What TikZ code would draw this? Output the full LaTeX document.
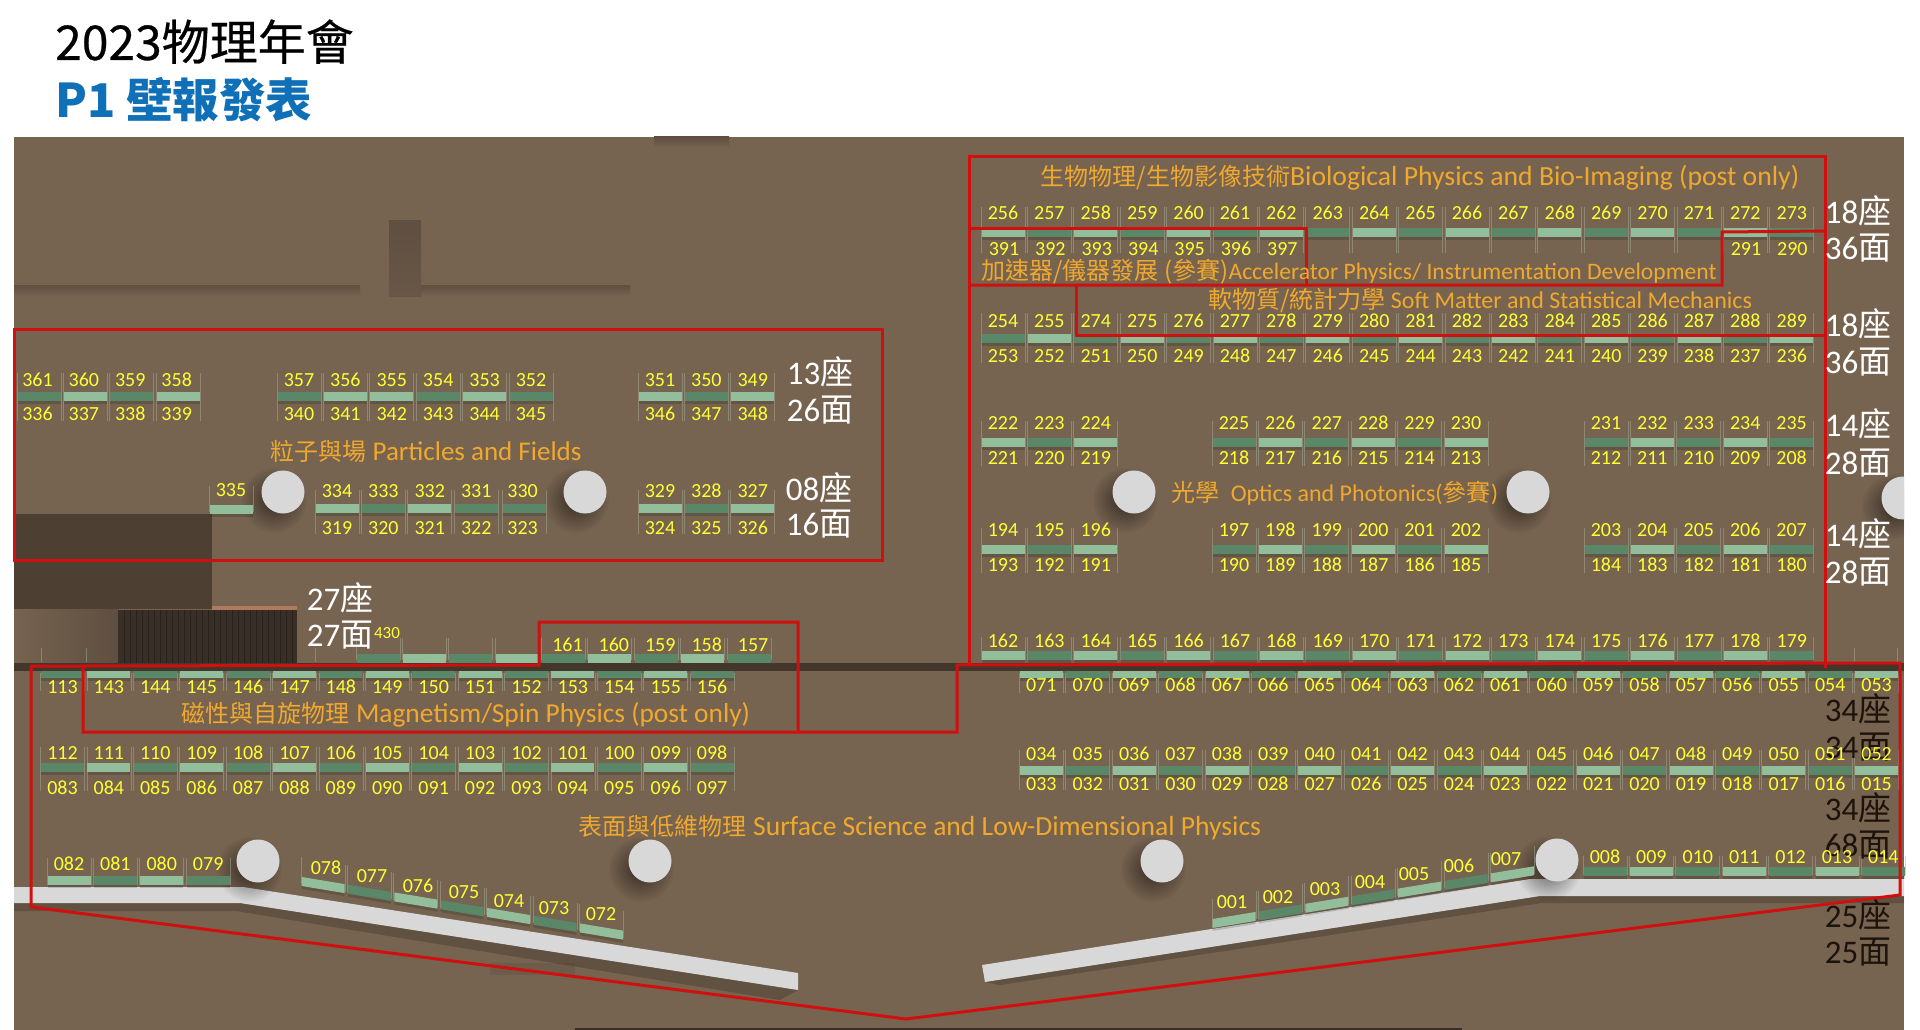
\documentclass[tikz,border=0pt]{standalone}
\usepackage{fontspec}
\setmainfont{Carlito}
\newfontfamily\cjk{Noto Sans CJK TC}
\newfontfamily\cjkmed[FakeBold=0.5]{Noto Sans CJK TC}
\usetikzlibrary{fadings}
\definecolor{floorbrown}{HTML}{766350}
\definecolor{wallshade}{HTML}{5F4F40}
\definecolor{darkblock}{HTML}{4E3F33}
\definecolor{darkstripe}{HTML}{3A2F26}
\definecolor{beam}{HTML}{43362B}
\definecolor{pillar}{HTML}{D8D8D8}
\definecolor{barlight}{HTML}{93BE9B}
\definecolor{bardark}{HTML}{5A8768}
\definecolor{sidegray}{HTML}{A3AD98}
\definecolor{numyellow}{HTML}{FFFF33}
\definecolor{fieldorange}{HTML}{F0A92E}
\definecolor{zonered}{HTML}{D20F0F}
\definecolor{titleblue}{HTML}{0F70B7}
\definecolor{stagepink}{HTML}{B07A5E}
\tikzfading[name=softpatch, inner color=transparent!45, outer color=transparent!100]
\tikzset{
 num/.style={text=numyellow, font=\fontsize{20}{21}\selectfont, inner sep=0pt},
 field/.style={text=fieldorange, font=\fontsize{#1}{30}\selectfont, inner sep=0pt},
 field/.default=24,
 tally/.style={font=\fontsize{33}{35}\selectfont, inner sep=0pt},
 zone/.style={draw=zonered, line width=3pt, line join=miter},
 sideline/.style={draw=sidegray, line width=0.7pt, opacity=.5}
}
\newcommand{\zh}[1]{{\cjk\fontsize{24}{26}\selectfont #1}}
% x, y, count, first shade (0 light, 1 dark), slope, up, down
\newcommand{\barrow}[7]{
 \foreach \i in {1,...,#3}{
  \pgfmathsetmacro\px{#1+(\i-1)*46.4}
  \pgfmathsetmacro\py{#2+(\i-1)*46.4*#5}
  \pgfmathtruncatemacro\odd{mod(\i+#4,2)}
  \ifnum\odd=1 \def\barcol{barlight}\else\def\barcol{bardark}\fi
  \fill[black,opacity=.15] (\px-21.5,\py-21.5*#5+4.5)--(\px+21.5,\py+21.5*#5+4.5)--(\px+21.5,\py+21.5*#5+7.5)--(\px-21.5,\py-21.5*#5+7.5)--cycle;
  \fill[\barcol] (\px-21.5,\py-21.5*#5-4.5)--(\px+21.5,\py+21.5*#5-4.5)--(\px+21.5,\py+21.5*#5+4.5)--(\px-21.5,\py-21.5*#5+4.5)--cycle;
  \draw[sideline] (\px-22,\py-21.5*#5-#6)--(\px-22,\py-21.5*#5+#7);
  \draw[sideline] (\px+22,\py+21.5*#5-#6)--(\px+22,\py+21.5*#5+#7);
 }}
% x, y, numbers
\newcommand{\numrow}[3]{
 \foreach \n [count=\i from 0] in {#3}
  \node[num] (b\n) at ({#1+\i*46.4},#2) {\n};
}
\begin{document}
\begin{tikzpicture}[x=1pt,y=-1pt]
 \useasboundingbox (0,0) rectangle (1920,1030);
 \node[anchor=base west, inner sep=0pt, font=\cjkmed\fontsize{48}{50}\selectfont] (title) at (55,60) {2023物理年會};
 \node[anchor=base west, inner sep=0pt, text=titleblue, font=\cjk\bfseries\fontsize{46.5}{49}\selectfont] (subtitle) at (55,118) {P1 壁報發表};
 % floor and walls
 \fill[floorbrown] (14,137) rectangle (1904,1030);
 \shade[top color=wallshade, bottom color=floorbrown] (654,137) rectangle (729,147);
 \shade[top color=wallshade, bottom color=floorbrown] (14,285) rectangle (360,296);
 \shade[top color=wallshade, bottom color=floorbrown] (392,285) rectangle (630,296);
 \shade[top color=wallshade, bottom color=wallshade!60!floorbrown] (389,220) rectangle (421,296);
 \fill[darkblock] (14,514) rectangle (212,609);
 \shade[left color=floorbrown, right color=wallshade] (14,609) rectangle (118,663);
 \fill[darkstripe] (118,610) rectangle (297,663);
 \foreach \x in {124,130,...,292}
  \draw[black!30!darkstripe, line width=0.6pt] (\x,610)--(\x,663);
 \fill[stagepink] (212,606) rectangle (297,610);
 \fill[wallshade!35!floorbrown] (490,963) rectangle (575,975);
 \fill[darkstripe] (575,1028) rectangle (1462,1030);
 \fill[black,opacity=.18] (14,903) -- (240,903) -- (798,990) -- (780,1000) -- (236,911) -- (14,911) -- cycle;
 \fill[black,opacity=.18] (985,982) -- (1540,896) -- (1904,896) -- (1904,903) -- (1542,903) -- (1000,985) -- cycle;
 \fill[pillar] (14,887) -- (243,887) -- (798,973) -- (798,990) -- (240,903) -- (14,903) -- cycle;
 \fill[pillar] (982,965) -- (1530,879) -- (1904,879) -- (1904,896) -- (1540,896) -- (985,982) -- cycle;
 \begin{scope}
  \clip (14,137) rectangle (1904,1030);
  \foreach \x/\y in {283/492,585/492,1134/492,1528/492,1903/498,258/861,650/861,1162/861,1557/860}{
   \fill[black,path fading=softpatch] (\x-9,\y+8) circle (33);
   \fill[pillar] (\x,\y) circle (21.5);
  }
 \end{scope}
 % booths, particles
 \barrow{39}{396}{4}{1}{0}{23}{25}
 \barrow{299}{396}{2}{1}{0}{23}{25}
 \barrow{391.8}{396}{4}{0}{0}{23}{25}
 \barrow{660}{396}{3}{0}{0}{23}{25}
 \barrow{231}{509}{1}{0}{0}{23}{3}
 \barrow{337}{508}{4}{0}{0}{18}{26}
 \barrow{524}{508}{1}{1}{0}{18}{26}
 \barrow{660}{508}{3}{0}{0}{18}{26}
 % booths, right block
 \barrow{1003}{232}{18}{0}{0}{25}{21}
 \barrow{1003}{338}{18}{1}{0}{25}{25}
 \foreach \y in {442,549}{
  \barrow{1003}{\y}{3}{0}{0}{21}{24}
  \barrow{1234}{\y}{6}{1}{0}{21}{24}
  \barrow{1606}{\y}{5}{1}{0}{21}{24}
 }
 \barrow{1003}{655}{18}{0}{0}{18}{5}
 \barrow{1041.4}{673}{19}{0}{0}{0}{20}
 \barrow{1041.4}{770}{19}{0}{0}{20}{20}
 \barrow{1605}{871}{7}{1}{0}{15}{4}
 \barrow{1234}{920}{7}{0}{-.164}{25}{3}
 % booths, left block
 \barrow{69}{880}{4}{0}{0}{22}{5}
 \barrow{62.5}{767}{15}{1}{0}{20}{24}
 \barrow{62.5}{673}{15}{1}{0}{0}{18}
 \barrow{378}{658}{4}{1}{0}{20}{2}
 \barrow{563.4}{658}{5}{1}{0}{20}{2}
 \barrow{323}{885}{7}{0}{.167}{24}{3}
 \foreach \x in {41,86,315,1854,1897}
  \draw[sideline] (\x,648)--(\x,662);
 \fill[beam] (14,663) rectangle (1904,671);
 % zones
 \draw[zone] (14,329) rectangle (882,560);
 \draw[zone] (969,665)--(969,157)--(1825,157)--(1825,668);
 \draw[zone] (969,228)--(1306,228)--(1306,285);
 \draw[zone] (969,285)--(1722,285)--(1722,232)--(1825,231);
 \draw[zone] (1076,285)--(1076,335)--(1825,335);
 \draw[zone] (83,666)--(539,665)--(539,622)--(798,622)--(798,732)--(83,732)--cycle;
 \draw[zone] (83,666)--(31,666)--(31,907)--(906,1019)--(1900,895)--(1900,663)--(957,665)--(957,732)--(798,732);
 % tallies
 \foreach \nm/\x/\y/\n/\w in {ta/820/372/13/座,tb/820/410/26/面,tc/819/488/08/座,td/819/524/16/面,
  te/340/598/27/座,tf/340/635/27/面,tg/1858/211/18/座,th/1858/248/36/面,ti/1858/324/18/座,tj/1858/362/36/面,
  tk/1858/424/14/座,tl/1858/463/28/面,tm/1858/534/14/座,tn/1858/572/28/面}
  \node[tally, text=white] (\nm) at (\x,\y) {\n{\cjk\w}};
 \foreach \nm/\x/\y/\n/\w in {to/1858/709/34/座,tp/1858/747/34/面,tq/1858/808/34/座,tr/1858/845/68/面,
  ts/1858/915/25/座,tt/1858/952/25/面}
  \node[tally, text=black!85!brown] (\nm) at (\x,\y) {\n{\cjk\w}};
 % numbers
 \numrow{37.5}{380}{361,360,359,358}
 \numrow{37.5}{414}{336,337,338,339}
 \numrow{299}{380}{357,356,...,352}
 \numrow{299}{414}{340,341,...,345}
 \numrow{660}{380}{351,350,349}
 \numrow{660}{414}{346,347,348}
 \numrow{231}{490}{335}
 \numrow{337}{491}{334,333,...,330}
 \numrow{337}{528}{319,320,...,323}
 \numrow{660}{491}{329,328,327}
 \numrow{660}{528}{324,325,326}
 \numrow{1003}{213}{256,257,...,273}
 \numrow{1004}{249}{391,392,...,397}
 \numrow{1746}{249}{291,290}
 \numrow{1003}{321}{254,255,274,275,...,289}
 \numrow{1003}{356}{253,252,...,236}
 \numrow{1003}{423}{222,223,224}
 \numrow{1003}{458}{221,220,219}
 \numrow{1234}{423}{225,226,...,230}
 \numrow{1234}{458}{218,217,...,213}
 \numrow{1606}{423}{231,232,...,235}
 \numrow{1606}{458}{212,211,...,208}
 \numrow{1003}{530}{194,195,196}
 \numrow{1003}{565}{193,192,191}
 \numrow{1234}{530}{197,198,...,202}
 \numrow{1234}{565}{190,189,...,185}
 \numrow{1606}{530}{203,204,...,207}
 \numrow{1606}{565}{184,183,...,180}
 \numrow{1003}{641}{162,163,...,179}
 \numrow{1041.4}{685}{071,070,069,068,067,066,065,064,063,062,061,060,059,058,057,056,055,054,053}
 \numrow{1041.4}{754}{034,035,036,037,038,039,040,041,042,043,044,045,046,047,048,049,050,051,052}
 \numrow{1041.4}{784}{033,032,031,030,029,028,027,026,025,024,023,022,021,020,019,018,017,016,015}
 \numrow{1605}{857}{008,009,010,011,012,013,014}
 \numrow{62.5}{687}{113,143,144,...,156}
 \numrow{62.5}{753}{112,111,...,100,099,098}
 \numrow{62.5}{788}{083,084,085,086,087,088,089,090,091,092,093,094,095,096,097}
 \numrow{69}{864}{082,081,080,079}
 \numrow{567.5}{645}{161,160,...,157}
 \foreach \n/\x/\y in {078/326/868,077/372/876,076/418/886,075/464/892,074/509/901,073/554/908,072/601/914,
  001/1232/902,002/1278/897,003/1325/889,004/1370/882,005/1414/874,006/1459/866,007/1506/859}
  \node[num] (b\n) at (\x,\y) {\n};
 \node[num, font=\fontsize{17}{18}\selectfont] (b430) at (387,633) {430};
 % fields
 \node[field=27] (particles) at (426,451) {\zh{粒子與場} Particles and Fields};
 \node[field=27.7] (bio) at (1420,178) {\zh{生物物理/生物影像技術}Biological Physics and Bio-Imaging (post only)};
 \node[field=23.6] (accel) at (1349,272) {\zh{加速器/儀器發展 (參賽)}Accelerator Physics/ Instrumentation Development};
 \node[field=24] (soft) at (1480,301) {\zh{軟物質/統計力學} Soft Matter and Statistical Mechanics};
 \node[field=24] (optics) at (1335,493) {\zh{光學}\ \ Optics and Photonics(\zh{參賽})};
 \node[field=27.4] (magnet) at (466,715) {\zh{磁性與自旋物理} Magnetism/Spin Physics (post only)};
 \node[field=27.6] (surface) at (920,828) {\zh{表面與低維物理} Surface Science and Low-Dimensional Physics};
\end{tikzpicture}
\end{document}
